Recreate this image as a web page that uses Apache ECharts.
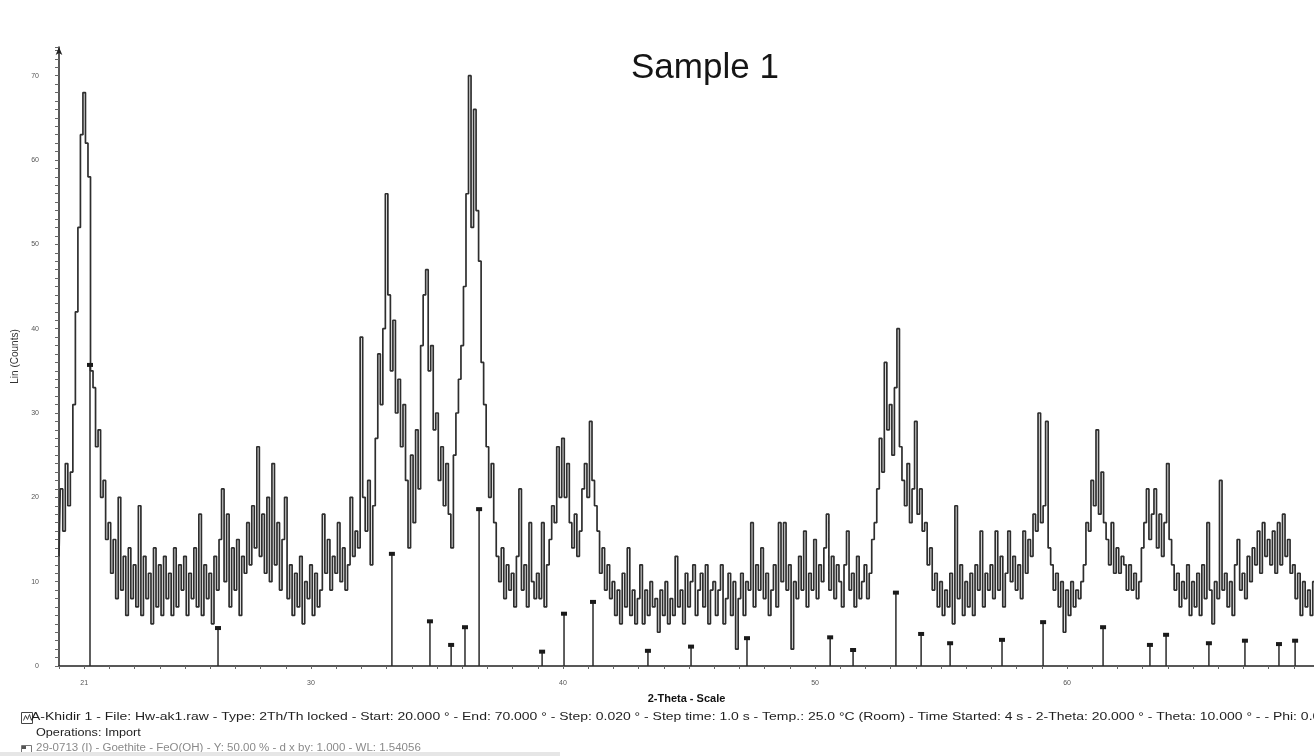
<!DOCTYPE html>
<html>
<head>
<meta charset="utf-8">
<title>Sample 1</title>
<script src="https://cdn.jsdelivr.net/npm/echarts/dist/echarts.min.js"></script>
<style>
  html, body { margin: 0; padding: 0; background: #fff; }
  #chart { width: 1314px; height: 756px; }
</style>
</head>
<body>
<div id="chart"></div>
<script>
// scan: 2-theta from 20.0 in steps of 0.1 deg, counts
const thetaStart = 20
const thetaStep = 0.1

const counts20 = [
  13, 21, 16, 24, 19, 23, 31, 42, 52, 63,
  68, 62, 58, 35, 33, 26, 28, 20, 22, 15,
  17, 11, 15, 8, 20, 9, 13, 6, 14, 8,
  12, 7, 19, 6, 13, 8, 11, 5, 14, 7,
  12, 6, 13, 8, 11, 6, 14, 7, 12, 9,
  13, 6, 11, 8, 14, 7, 18, 6, 12, 8,
  11, 5, 13, 9, 15, 21, 10, 18, 7, 14,
  9, 15, 6, 13, 11, 17, 12, 19, 14, 26,
  13, 18, 11, 20, 10, 24, 12, 17, 9, 15,
  20, 8, 12, 6, 11, 7, 13, 5, 10, 8
]
const counts30 = [
  12, 6, 11, 7, 9, 18, 11, 15, 9, 13,
  11, 17, 10, 14, 9, 12, 20, 13, 16, 14,
  39, 20, 16, 22, 12, 19, 27, 37, 31, 40,
  56, 44, 35, 41, 30, 34, 26, 31, 22, 14,
  25, 17, 28, 21, 38, 44, 47, 35, 38, 28,
  30, 22, 26, 19, 24, 18, 14, 25, 30, 34,
  38, 45, 56, 70, 52, 66, 54, 48, 36, 31,
  26, 20, 24, 17, 13, 10, 14, 8, 12, 9,
  11, 7, 13, 21, 9, 12, 7, 17, 10, 8,
  11, 8, 17, 7, 12, 15, 19, 17, 26, 20
]
const counts40 = [
  27, 20, 24, 17, 14, 18, 13, 16, 21, 24,
  20, 29, 22, 19, 16, 11, 14, 9, 12, 8,
  10, 6, 9, 5, 11, 7, 14, 6, 9, 5,
  8, 12, 5, 9, 6, 10, 7, 8, 4, 9,
  6, 10, 5, 8, 6, 13, 7, 9, 5, 11,
  7, 10, 12, 6, 9, 11, 7, 12, 5, 9,
  10, 6, 9, 12, 5, 8, 11, 6, 10, 2,
  8, 11, 6, 10, 9, 17, 7, 12, 9, 14,
  8, 11, 6, 9, 12, 7, 17, 10, 17, 9,
  12, 2, 10, 8, 13, 9, 16, 7, 11, 9
]
const counts50 = [
  15, 8, 12, 10, 14, 18, 9, 13, 8, 12,
  10, 7, 12, 16, 9, 11, 7, 13, 8, 10,
  12, 8, 11, 15, 17, 21, 27, 23, 36, 28,
  31, 25, 33, 40, 26, 22, 19, 24, 17, 21,
  29, 18, 21, 16, 17, 12, 14, 9, 11, 7,
  10, 6, 9, 7, 11, 5, 19, 8, 12, 6,
  10, 7, 11, 6, 12, 9, 16, 7, 11, 9,
  12, 8, 16, 9, 13, 7, 11, 16, 10, 13,
  9, 12, 8, 16, 11, 15, 13, 18, 16, 30,
  17, 19, 29, 14, 12, 9, 11, 7, 10, 4
]
const counts60 = [
  9, 6, 10, 7, 9, 8, 10, 12, 17, 16,
  22, 19, 28, 18, 23, 17, 15, 12, 17, 11,
  14, 11, 13, 12, 9, 12, 9, 11, 8, 10,
  14, 17, 21, 15, 18, 21, 14, 18, 13, 17,
  24, 15, 12, 9, 11, 7, 10, 8, 12, 6,
  10, 7, 11, 6, 12, 8, 17, 9, 5, 10,
  8, 22, 9, 11, 7, 10, 6, 12, 15, 9,
  11, 8, 13, 10, 14, 12, 16, 11, 17, 13,
  15, 12, 16, 11, 17, 12, 18, 13, 15, 11,
  12, 8, 11, 6, 10, 7, 9, 6, 10, 8
]

// 29-0713 Goethite reference lines (2-theta, height in counts)
const stickPos = [21.23, 26.31, 33.21, 34.72, 35.56, 36.11, 36.67, 39.17, 40.04, 41.19,
  43.37, 45.08, 47.30, 50.60, 51.51, 53.21, 54.21, 55.36, 57.42, 59.05,
  61.43, 63.29, 63.93, 65.63, 67.06, 68.41, 69.05]
const stickHeight = [35.7, 4.5, 13.3, 5.3, 2.5, 4.6, 18.6, 1.7, 6.2, 7.6,
  1.8, 2.3, 3.3, 3.4, 1.9, 8.7, 3.8, 2.7, 3.1, 5.2,
  4.6, 2.5, 3.7, 2.7, 3.0, 2.6, 3.0]

const xTickLabels = [21, 30, 40, 50, 60]
const yTickLabels = [0, 10, 20, 30, 40, 50, 60, 70]

const counts = counts20.concat(counts30, counts40, counts50, counts60)
const scan = counts.map((c, i) => [+(thetaStart + i * thetaStep).toFixed(2), c])
const sticks = stickPos.map((p, i) => [p, stickHeight[i]])

const footer1 = 'A-Khidir 1 - File: Hw-ak1.raw - Type: 2Th/Th locked - Start: 20.000 \u00b0 - End: 70.000 \u00b0 - Step: 0.020 \u00b0 - Step time: 1.0 s - Temp.: 25.0 \u00b0C (Room) - Time Started: 4 s - 2-Theta: 20.000 \u00b0 - Theta: 10.000 \u00b0 - - Phi: 0.00 \u00b0'
const footer2 = 'Operations: Import'
const footer3 = '29-0713 (I) - Goethite - FeO(OH) - Y: 50.00 % - d x by: 1.000 - WL: 1.54056'

const font = 'Liberation Sans, Arial, sans-serif'
const chart = echarts.init(document.getElementById('chart'))

chart.setOption({
  animation: false,
  backgroundColor: '#fff',
  title: {
    text: 'Sample 1',
    left: 626,
    top: 46,
    textStyle: { fontFamily: font, fontSize: 35, fontWeight: 'normal', color: '#151515' }
  },
  grid: { left: 59, right: 0, top: 47, bottom: 90, outerBoundsMode: 'none' },
  xAxis: {
    type: 'value',
    min: 20,
    max: 69.8,
    interval: 1,
    name: '2-Theta - Scale',
    nameLocation: 'middle',
    nameGap: 27,
    nameTextStyle: { fontFamily: font, fontSize: 11, color: '#111', fontWeight: 'bold' },
    splitLine: { show: false },
    axisLine: { lineStyle: { color: '#222', width: 1.5 } },
    axisTick: { length: 3, lineStyle: { color: '#666' } },
    axisLabel: {
      customValues: xTickLabels,
      margin: 14,
      fontFamily: font,
      fontSize: 7,
      color: '#555'
    }
  },
  yAxis: {
    type: 'value',
    min: 0,
    max: 73.4,
    interval: 1,
    name: 'Lin (Counts)',
    nameLocation: 'middle',
    nameGap: 38,
    nameTextStyle: { fontFamily: font, fontSize: 10, color: '#333' },
    splitLine: { show: false },
    axisLine: {
      lineStyle: { color: '#222', width: 1.5 },
      symbol: ['none', 'arrow'],
      symbolSize: [5, 8]
    },
    axisTick: { length: 4, lineStyle: { color: '#666' } },
    axisLabel: {
      customValues: yTickLabels,
      margin: 20,
      fontFamily: font,
      fontSize: 7,
      color: '#555'
    }
  },
  series: [
    {
      name: 'A-Khidir 1',
      type: 'line',
      data: scan,
      step: 'middle',
      symbol: 'none',
      clip: true,
      lineStyle: { color: '#2e2e2e', width: 1.7 },
      z: 2
    },
    {
      name: 'Goethite',
      type: 'custom',
      data: sticks,
      z: 3,
      renderItem(params, api) {
        const top = api.coord([api.value(0), api.value(1)])
        const base = api.coord([api.value(0), 0])
        return {
          type: 'group',
          children: [
            {
              type: 'line',
              shape: { x1: base[0], y1: base[1], x2: top[0], y2: top[1] },
              style: { stroke: '#2a2a2a', lineWidth: 1.5 }
            },
            {
              type: 'rect',
              shape: { x: top[0] - 3, y: top[1] - 2, width: 6, height: 4 },
              style: { fill: '#1a1a1a' }
            }
          ]
        }
      }
    }
  ],
  graphic: [
    // legend icons and scan info lines under the plot
    { type: 'rect', left: 19, top: 710, shape: { width: 11, height: 11 }, style: { fill: 'none', stroke: '#444', lineWidth: 1 } },
    { type: 'polyline', left: 21, top: 712, shape: { points: [[0, 7], [2, 2], [4, 6], [6, 1], [8, 7]] }, style: { fill: 'none', stroke: '#444', lineWidth: 1 } },
    { type: 'text', x: 31, y: 711, scaleX: 1.27, style: { text: footer1, font: '11px ' + font, fill: '#1e1e1e' } },
    { type: 'text', x: 36, y: 727, scaleX: 1.15, style: { text: footer2, font: '11px ' + font, fill: '#1e1e1e' } },
    { type: 'rect', left: 19, top: 743, shape: { width: 10, height: 9 }, style: { fill: 'none', stroke: '#777', lineWidth: 1 } },
    { type: 'rect', left: 22, top: 746, shape: { width: 4, height: 3 }, style: { fill: '#555' } },
    { type: 'text', x: 36, y: 743, scaleX: 1.15, style: { text: footer3, font: '10px ' + font, fill: '#8a8a8a' } },
    { type: 'rect', left: 0, top: 752, shape: { width: 560, height: 4 }, style: { fill: '#e6e6e6' } }
  ]
})
</script>
</body>
</html>
